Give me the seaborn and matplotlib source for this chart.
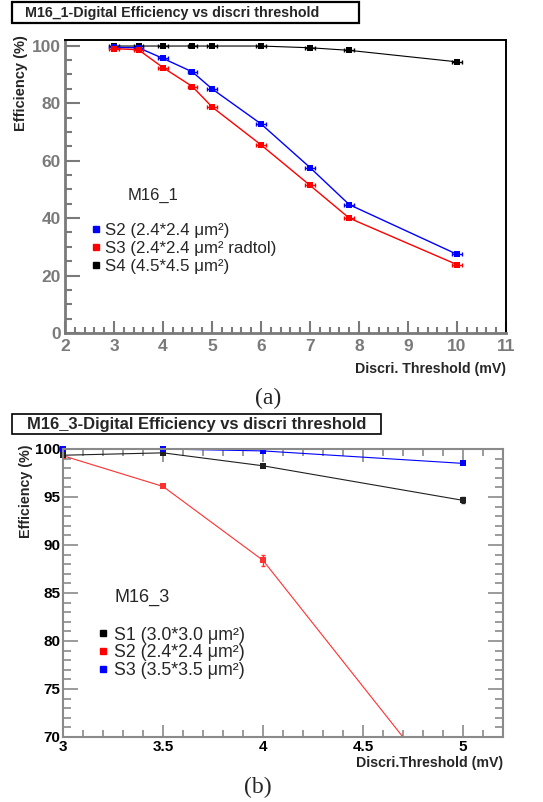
import matplotlib
matplotlib.use("Agg")
import matplotlib.pyplot as plt
import numpy as np
import seaborn as sns
from matplotlib.lines import Line2D
from matplotlib.patches import Rectangle
from matplotlib.ticker import FormatStrFormatter, MultipleLocator

# ---- panel (a): M16_1 ----
thr_a = [3.0, 3.5, 4.0, 4.6, 5.0, 6.0, 7.0, 7.8, 10.0]
thr_a_err = [0.1, 0.1, 0.1, 0.1, 0.1, 0.1, 0.1, 0.1, 0.1]
eff_a_s2 = [99.4, 99.3, 95.6, 90.9, 85.0, 72.8, 57.6, 44.7, 27.4]
eff_a_s3 = [99.0, 98.6, 92.4, 85.8, 78.7, 65.5, 51.4, 40.0, 23.8]
eff_a_s4 = [99.9, 99.9, 99.9, 99.9, 99.9, 99.9, 99.3, 98.4, 94.4]
labels_a = ["S2 (2.4*2.4 μm²)", "S3 (2.4*2.4 μm² radtol)", "S4 (4.5*4.5 μm²)"]

# ---- panel (b): M16_3 ----
thr_b = [3.0, 3.5, 4.0, 5.0]
eff_b_s1 = [99.35, 99.6, 98.25, 94.65]
eff_b_s1_err = [0.1, 0.15, 0.1, 0.3]
eff_b_s2 = [99.3, 96.1, 88.4, 62.1]
eff_b_s2_err = [0.1, 0.1, 0.6, 0.8]
eff_b_s3 = [100.0, 100.0, 99.8, 98.5]
eff_b_s3_err = [0.05, 0.05, 0.1, 0.1]
labels_b = ["S1 (3.0*3.0 μm²)", "S2 (2.4*2.4 μm²)", "S3 (3.5*3.5 μm²)"]

sns.set_style("ticks")
plt.rcParams["font.family"] = ["Liberation Sans", "DejaVu Sans"]

W, H = 543, 802
fig = plt.figure(figsize=(W / 100, H / 100), dpi=100)


def fig_box(x0, y0, x1, y1):
    return [x0 / W, 1 - y1 / H, (x1 - x0) / W, (y1 - y0) / H]


def draw_series(ax, x, y, color, lw, ms, xerr=None, yerr=None, clip=True):
    sns.lineplot(x=x, y=y, ax=ax, color=color, linewidth=lw, sort=False,
                 marker="s", markersize=ms, markeredgewidth=0, legend=False,
                 errorbar=None, clip_on=clip)
    ax.errorbar(x, y, xerr=xerr, yerr=yerr, fmt="none", ecolor=color,
                elinewidth=1.0, capsize=1.5, capthick=1.0, clip_on=clip)


# ================= panel (a) =================
ax1 = fig.add_axes(fig_box(65, 40, 506, 333))
grey = "#7a7a7a"
draw_series(ax1, thr_a, eff_a_s4, "black", 0.8, 4.5, xerr=thr_a_err)
draw_series(ax1, thr_a, eff_a_s2, "blue", 1.0, 4.5, xerr=thr_a_err)
draw_series(ax1, thr_a, eff_a_s3, "red", 1.0, 4.5, xerr=thr_a_err)
ax1.set_xlim(2, 11)
ax1.set_ylim(0, 102)
ax1.xaxis.set_major_locator(MultipleLocator(1))
ax1.xaxis.set_minor_locator(MultipleLocator(0.2))
ax1.yaxis.set_major_locator(MultipleLocator(20))
ax1.yaxis.set_minor_locator(MultipleLocator(5))
ax1.tick_params(which="both", direction="in", color=grey, width=1.5,
                labelcolor=grey, labelsize=12.5)
ax1.tick_params(axis="y", which="major", length=11, pad=3)
ax1.tick_params(axis="y", which="minor", length=5)
ax1.tick_params(axis="x", which="major", length=9, pad=4)
ax1.tick_params(axis="x", which="minor", length=4)
for side in ["left", "bottom"]:
    ax1.spines[side].set_color(grey)
    ax1.spines[side].set_linewidth(2)
for side in ["top", "right"]:
    ax1.spines[side].set_color("black")
    ax1.spines[side].set_linewidth(1.4)
ax1.set_ylabel("Efficiency (%)", fontsize=10.5, fontweight="bold", loc="top")
ax1.yaxis.set_label_coords(-0.085, 1.017)
ax1.set_xlabel("Discri. Threshold (mV)", fontsize=10.2, fontweight="bold", loc="right")
ax1.xaxis.set_label_coords(1.0, -0.10)
ax1.text(0.143, 0.47, "M16_1", transform=ax1.transAxes, fontsize=12, va="center")
handles_a = [Line2D([], [], color=c, marker="s", linestyle="none", markersize=4.5)
             for c in ["blue", "red", "black"]]
ax1.legend(handles_a, labels_a, loc="upper left", bbox_to_anchor=(0.045, 0.40),
           frameon=False, fontsize=12.2, handlelength=0.5, handletextpad=0.3,
           labelspacing=0.2, borderaxespad=0)

fig.patches.append(Rectangle((12 / W, 1 - 23 / H), 347 / W, 21 / H, fill=False,
                             lw=1.6, ec="black", transform=fig.transFigure))
fig.text(25 / W, 1 - 12.5 / H, "M16_1-Digital Efficiency vs discri threshold",
         fontsize=10.3, fontweight="bold", va="center")
fig.text(268 / W, 1 - 398 / H, "(a)", fontsize=17, family="Liberation Serif",
         ha="center", va="center")

# ================= panel (b) =================
ax2 = fig.add_axes(fig_box(63, 449, 503, 737))
greyb = "#8a8a8a"
draw_series(ax2, thr_b, eff_b_s2, "#ff3030", 0.8, 5, yerr=eff_b_s2_err)
draw_series(ax2, thr_b, eff_b_s1, "#202020", 0.8, 5, yerr=eff_b_s1_err, clip=False)
draw_series(ax2, thr_b, eff_b_s3, "blue", 0.8, 5, yerr=eff_b_s3_err, clip=False)
ax2.set_xlim(3, 5.2)
ax2.set_ylim(70, 100)
ax2.xaxis.set_major_locator(MultipleLocator(0.5))
ax2.xaxis.set_minor_locator(MultipleLocator(0.1))
ax2.xaxis.set_major_formatter(FormatStrFormatter("%g"))
ax2.yaxis.set_major_locator(MultipleLocator(5))
ax2.yaxis.set_minor_locator(MultipleLocator(1))
ax2.tick_params(which="both", direction="in", color=greyb, width=1.2,
                top=True, right=True, labelsize=11, labelcolor="black")
ax2.tick_params(axis="y", which="major", length=11, pad=2)
ax2.tick_params(axis="y", which="minor", length=6)
ax2.tick_params(axis="x", which="major", length=9, pad=2)
ax2.tick_params(axis="x", which="minor", length=5)
for side in ax2.spines:
    ax2.spines[side].set_color(greyb)
    ax2.spines[side].set_linewidth(1.5)
ax2.set_ylabel("Efficiency (%)", fontsize=10.3, fontweight="bold", loc="top")
ax2.yaxis.set_label_coords(-0.068, 1.014)
ax2.set_xlabel("Discri.Threshold (mV)", fontsize=10.2, fontweight="bold", loc="right")
ax2.xaxis.set_label_coords(1.0, -0.066)
ax2.text(0.118, 0.486, "M16_3", transform=ax2.transAxes, fontsize=13, va="center")
handles_b = [Line2D([], [], color=c, marker="s", linestyle="none", markersize=4.5)
             for c in ["black", "red", "blue"]]
ax2.legend(handles_b, labels_b, loc="upper left", bbox_to_anchor=(0.065, 0.408),
           frameon=False, fontsize=12.8, handlelength=0.5, handletextpad=0.35,
           labelspacing=0.05, borderaxespad=0)

fig.patches.append(Rectangle((12 / W, 1 - 434 / H), 369 / W, 20 / H, fill=False,
                             lw=1.2, ec="black", transform=fig.transFigure))
fig.text(27 / W, 1 - 424 / H, "M16_3-Digital Efficiency vs discri threshold",
         fontsize=11.9, fontweight="bold", va="center")
fig.text(258 / W, 1 - 787 / H, "(b)", fontsize=17, family="Liberation Serif",
         ha="center", va="center")

# tick labels are bold in both panels
fig.canvas.draw()
for ax in (ax1, ax2):
    plt.setp(ax.get_xticklabels() + ax.get_yticklabels(), fontweight="bold")

fig.savefig("out.png", dpi=100)
